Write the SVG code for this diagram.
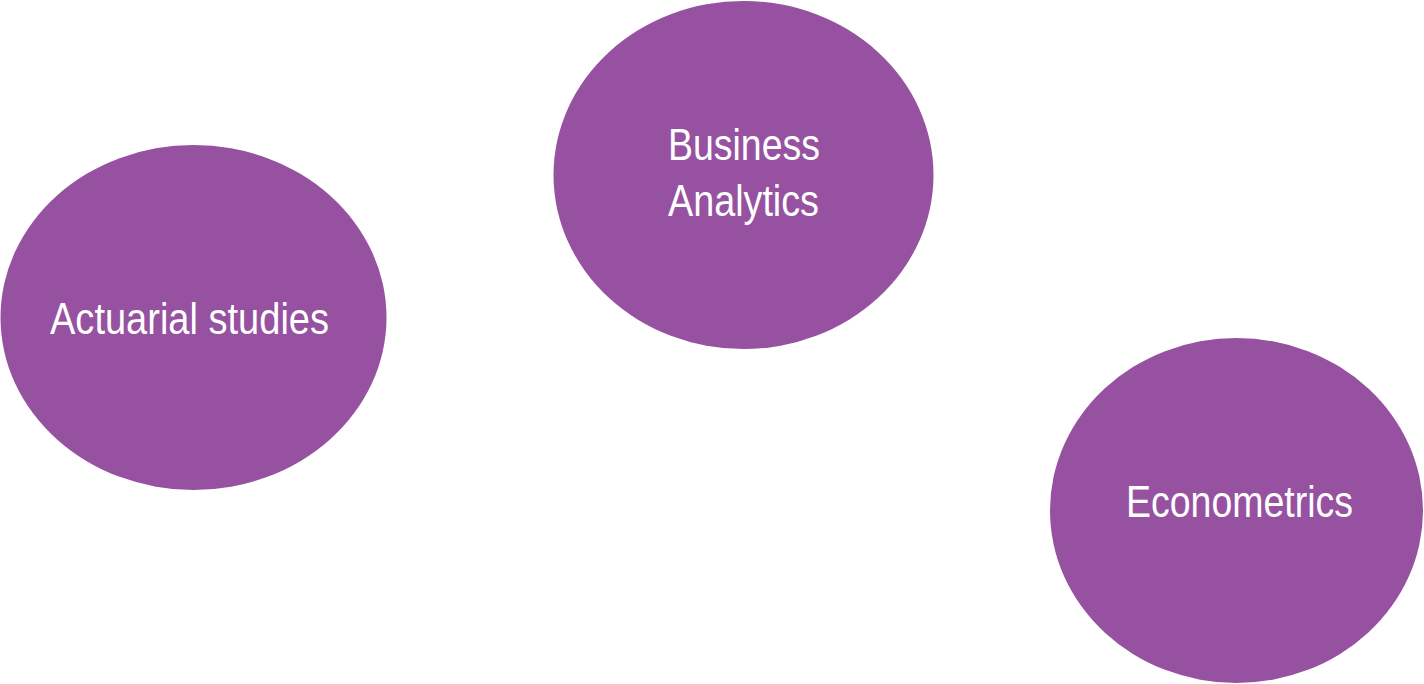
<svg xmlns="http://www.w3.org/2000/svg" width="1424" height="684" viewBox="0 0 1424 684">
<style>
.node{fill:#9651A0;}
.lbl{font-family:"Liberation Sans Narrow","Liberation Sans",Arial,sans-serif;font-size:45px;fill:#ffffff;}
</style>
<rect width="1424" height="684" fill="#ffffff"/>
<g id="connectors"></g>
<g id="node-actuarial">
<ellipse class="node" cx="193.5" cy="317.5" rx="193" ry="172.5"/>
<text class="lbl" x="50" y="334" textLength="279" lengthAdjust="spacingAndGlyphs">Actuarial studies</text>
</g>
<g id="node-business">
<ellipse class="node" cx="743.5" cy="175" rx="190" ry="174"/>
<text class="lbl" x="668" y="160" textLength="152" lengthAdjust="spacingAndGlyphs">Business</text>
<text class="lbl" x="668" y="216" textLength="151" lengthAdjust="spacingAndGlyphs">Analytics</text>
</g>
<g id="node-econometrics">
<ellipse class="node" cx="1236.5" cy="510.5" rx="186.5" ry="172.5"/>
<text class="lbl" x="1126" y="517" textLength="227" lengthAdjust="spacingAndGlyphs">Econometrics</text>
</g>
</svg>
